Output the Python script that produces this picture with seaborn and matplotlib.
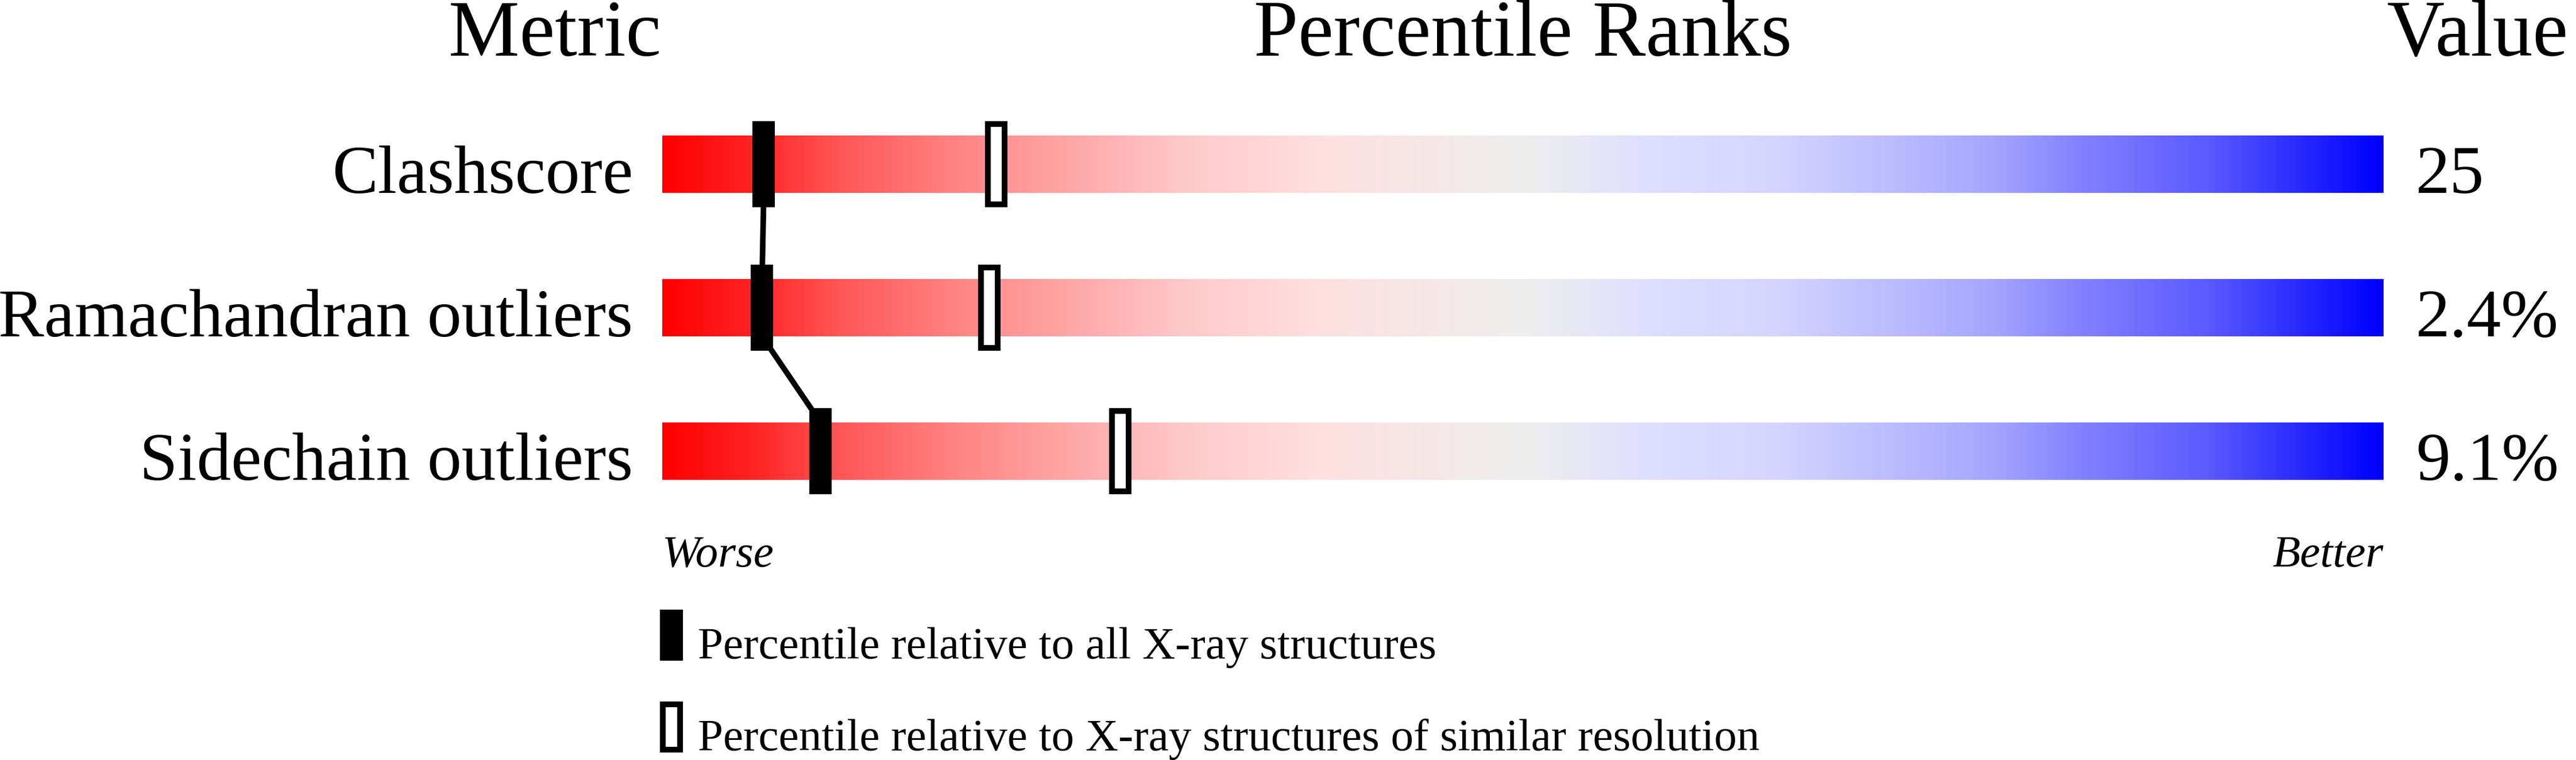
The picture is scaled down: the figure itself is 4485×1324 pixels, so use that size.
import matplotlib
matplotlib.use("Agg")
import matplotlib.pyplot as plt
import numpy as np
import seaborn as sns
from matplotlib.colors import LinearSegmentedColormap
from matplotlib.patches import Rectangle

metrics = ["Clashscore", "Ramachandran outliers", "Sidechain outliers"]
values = ["25", "2.4%", "9.1%"]
pct_all = [5.9, 5.8, 9.2]          # percentile vs all X-ray structures (filled)
pct_similar = [19.4, 19.0, 26.6]   # percentile vs similar resolution (open)
rows = [0, 1, 2]

sns.set_theme(style="white")
plt.rcParams['font.family'] = ['Liberation Serif', 'DejaVu Serif']
plt.rcParams['text.color'] = 'black'

# red -> grey -> blue gradient used by the bars
stops = [(0.0, (255, 0, 0)), (0.05, (255, 35, 35)), (0.1, (255, 85, 85)),
         (0.175, (255, 135, 135)), (0.3, (255, 200, 200)), (0.375, (255, 222, 222)),
         (0.5, (238, 238, 238)), (0.575, (222, 222, 255)), (0.65, (212, 212, 255)),
         (0.775, (165, 165, 255)), (0.825, (130, 130, 255)), (0.9, (90, 90, 255)),
         (1.0, (0, 0, 255))]
cmap = LinearSegmentedColormap.from_list(
    "slider", [(p, tuple(c / 255 for c in rgb)) for p, rgb in stops])

fig = plt.figure(figsize=(44.85, 13.24), dpi=100, facecolor="white")
ax = fig.add_axes([1153 / 4485, 0, 2997 / 4485, 1])
ax.set_facecolor("white")

bar_h = 0.4
mk_h = 0.6
mk_w = 1.3
grad = np.linspace(0, 1, 1200).reshape(1, -1)

for i in rows:
    ax.imshow(grad, cmap=cmap, extent=(0, 100, i + bar_h / 2, i - bar_h / 2),
              aspect="auto", interpolation="bilinear", zorder=1)

# line joining the filled markers, from bar bottom edge to next bar top edge
line_x = np.repeat(pct_all, 2)[1:-1]
line_y = np.ravel([[r - bar_h / 2, r + bar_h / 2] for r in rows])[1:-1]
sns.lineplot(x=line_x, y=line_y, sort=False, estimator=None, color="black",
             linewidth=7.0, ax=ax, zorder=3, legend=False)

for i, p in zip(rows, pct_all):
    ax.add_patch(Rectangle((p - mk_w / 2, i - mk_h / 2), mk_w, mk_h,
                           facecolor="black", edgecolor="none", zorder=4))
for i, p in zip(rows, pct_similar):
    ax.add_patch(Rectangle((p - 0.484, i - 0.28), 0.968, 0.56, facecolor="white",
                           edgecolor="black", linewidth=7.2, joinstyle="miter", zorder=4))

for i, m, v in zip(rows, metrics, values):
    ax.text(-1.7, i + bar_h / 2, m, ha="right", va="baseline", fontsize=86,
            color="black", clip_on=False)
    ax.text(101.87, i + bar_h / 2, v, ha="left", va="baseline", fontsize=86,
            color="black", clip_on=False)

# column headers
ax.text(-0.07, -0.756, "Metric", ha="right", va="baseline", fontsize=100,
        color="black", clip_on=False)
ax.text(50, -0.756, "Percentile Ranks", ha="center", va="baseline", fontsize=100,
        color="black", clip_on=False)
ax.text(100.17, -0.756, "Value", ha="left", va="baseline", fontsize=100,
        color="black", clip_on=False)

ax.text(0, 2.804, "Worse", ha="left", va="baseline", fontsize=57, style="italic",
        color="black")
ax.text(100, 2.804, "Better", ha="right", va="baseline", fontsize=57, style="italic",
        color="black")

# legend
ax.add_patch(Rectangle((-0.13, 3.104), 1.33, 0.356, facecolor="black",
                       edgecolor="none", clip_on=False))
ax.add_patch(Rectangle((0.037, 3.764), 1.0, 0.316, facecolor="white", edgecolor="black",
                       linewidth=7.2, joinstyle="miter", clip_on=False))
ax.text(2.07, 3.444, "Percentile relative to all X-ray structures",
        ha="left", va="baseline", fontsize=57, color="black")
ax.text(2.07, 4.084, "Percentile relative to X-ray structures of similar resolution",
        ha="left", va="baseline", fontsize=57, color="black")

ax.set_xlim(0, 100)
ax.set_ylim(4.152, -1.144)
ax.axis("off")

fig.savefig("out.png", dpi=100, facecolor="white")
